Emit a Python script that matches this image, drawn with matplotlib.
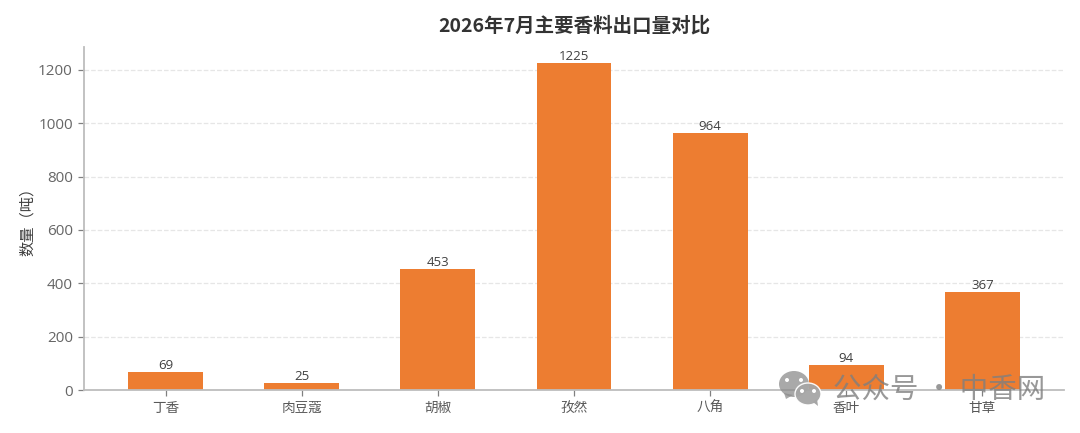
import matplotlib
matplotlib.use("Agg")
import matplotlib.pyplot as plt
from matplotlib.patches import Ellipse, Polygon

plt.rcParams['font.family'] = ['Open Sans', 'Noto Sans CJK SC', 'DejaVu Sans']

categories = ['丁香', '肉豆蔻', '胡椒', '孜然', '八角', '香叶', '甘草']
values = [69, 25, 453, 1225, 964, 94, 367]
yticks = [0, 200, 400, 600, 800, 1000, 1200]
title = '2026年7月主要香料出口量对比'
ylabel = '数量（吨）'
watermark = '公众号 · 中香网'

W, H = 1080, 433
fig = plt.figure(figsize=(W / 100, H / 100), dpi=100, facecolor='white')
ax = fig.add_axes([84 / W, 1 - 390 / H, 980 / W, 343 / H])

x = list(range(len(categories)))
bars = ax.bar(x, values, width=0.55, color='#ED7D31', zorder=3)
ax.set_xlim(-0.6, 6.6)
ax.set_ylim(0, 1286)
ax.set_xticks(x, categories)
ax.set_yticks(yticks)

for s in ('top', 'right'):
    ax.spines[s].set_visible(False)
for s in ('left', 'bottom'):
    ax.spines[s].set_color('#BDBDBD')
    ax.spines[s].set_linewidth(1.3)
    ax.spines[s].set_zorder(4)

ax.tick_params(axis='x', labelsize=9.8, labelcolor='#595959', color='#808080', length=4, width=0.9, pad=4)
ax.tick_params(axis='y', labelsize=11, labelcolor='#666666', color='#808080', length=4, width=0.9, pad=4)
ax.grid(axis='y', color='#E6E6E6', linestyle='--', linewidth=0.9, zorder=0)
ax.set_axisbelow(True)

for b, v in zip(bars, values):
    ax.annotate(str(v), (b.get_x() + b.get_width() / 2, v), xytext=(0, 0),
                textcoords='offset points', ha='center', va='bottom',
                fontsize=9.5, color='#404040', zorder=5)

fig.text(574 / W, 1 - 26 / H, title, ha='center', va='center',
         fontsize=14, fontweight='bold', color='#333333',
         family=['Noto Sans CJK SC', 'DejaVu Sans'])
fig.text(27 / W, 1 - 218 / H, ylabel, ha='center', va='center', rotation=90,
         fontsize=11, color='#404040', family=['Noto Sans CJK SC', 'DejaVu Sans'])

# watermark: WeChat icon and text
wm = '#8C8C8C'
tr = fig.transFigure
def fx(p): return p / W
def fy(p): return 1 - p / H
fig.patches.append(Ellipse((fx(794), fy(384)), 30 / W, 26 / H, transform=tr, fc=wm, ec='none', alpha=0.75, zorder=10))
fig.patches.append(Polygon([(fx(784), fy(393)), (fx(786), fy(399)), (fx(793), fy(395))], transform=tr, fc=wm, ec='none', alpha=0.75, zorder=10))
fig.patches.append(Ellipse((fx(808), fy(394)), 26 / W, 22 / H, transform=tr, fc='#A6A6A6', ec='white', lw=1, alpha=0.95, zorder=11))
fig.patches.append(Polygon([(fx(813), fy(402)), (fx(818), fy(406)), (fx(817), fy(399))], transform=tr, fc='#A6A6A6', ec='none', zorder=11))
for px, py, z in [(787, 380, 12), (801, 380, 12), (802, 391, 12), (814, 391, 12)]:
    fig.patches.append(Ellipse((fx(px), fy(py)), 4 / W, 4 / H, transform=tr, fc='white', ec='none', zorder=z))
fig.text(939 / W, 1 - 390 / H, watermark, ha='center', va='center', fontsize=20.5,
         color='#7F7F7F', alpha=0.8, zorder=12, family=['Noto Sans CJK SC', 'DejaVu Sans'])

fig.savefig('out.png', dpi=100)
